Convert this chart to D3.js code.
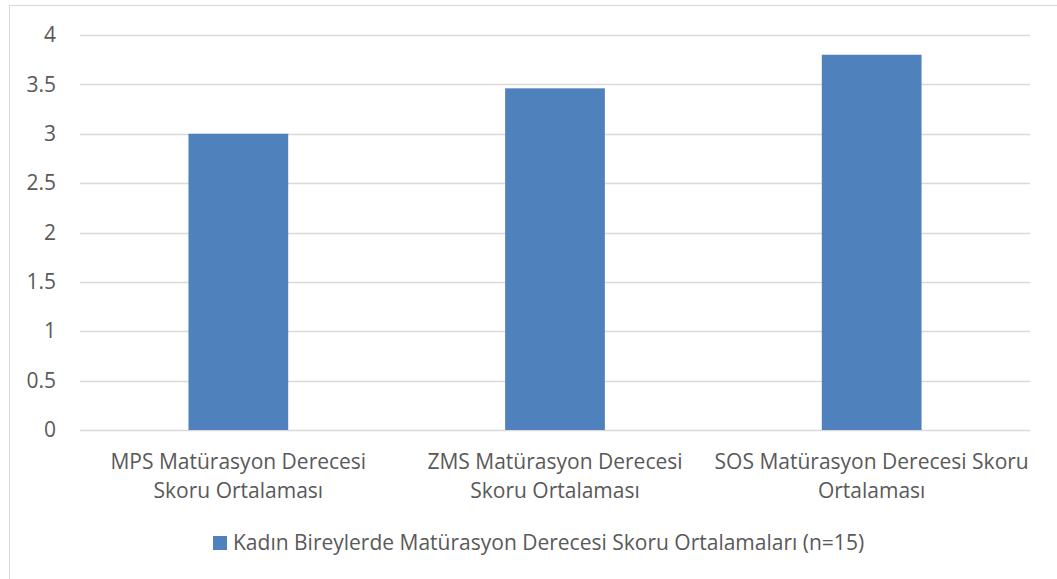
<!DOCTYPE html>
<html>
<head>
<meta charset="utf-8">
<script src="https://cdn.jsdelivr.net/npm/d3@7"></script>
<style>
  body { margin: 0; background: #fff; }
  text { font-family: "Open Sans", "Noto Sans", sans-serif; fill: #595959; }
</style>
</head>
<body>
<div id="chart"></div>
<script>
// Chart data
const categories = [
    ["MPS Matürasyon Derecesi", "Skoru Ortalaması"],
    ["ZMS Matürasyon Derecesi", "Skoru Ortalaması"],
    ["SOS Matürasyon Derecesi Skoru", "Ortalaması"]
];
const values = [3.0, 3.46, 3.8];
const yTicks = [0, 0.5, 1, 1.5, 2, 2.5, 3, 3.5, 4];
const seriesName = "Kadın Bireylerde Matürasyon Derecesi Skoru Ortalamaları (n=15)";

const W = 1057, H = 579;
const margin = { top: 35, right: 27, bottom: 149, left: 80 };
const width = W - margin.left - margin.right;
const height = H - margin.top - margin.bottom;

const root = d3.select("#chart").append("svg")
    .attr("width", W)
    .attr("height", H);

// outer chart frame
root.append("rect")
    .attr("x", 9.5).attr("y", 5.5)
    .attr("width", W + 20).attr("height", H + 20)
    .attr("fill", "none")
    .attr("stroke", "#d9d9d9");

const svg = root.append("g")
    .attr("transform", `translate(${margin.left},${margin.top})`);

const x = d3.scaleBand()
    .domain(d3.range(categories.length))
    .range([0, width])
    .paddingInner(0.685)
    .paddingOuter(0.3425);

const y = d3.scaleLinear()
    .domain([0, 4])
    .range([height, 0]);

// gridlines
svg.append("g")
    .selectAll("line")
    .data(yTicks)
    .enter()
    .append("line")
    .attr("x1", 0)
    .attr("x2", width)
    .attr("y1", d => Math.round(y(d)) + 0.5)
    .attr("y2", d => Math.round(y(d)) + 0.5)
    .attr("stroke", "#d9d9d9")
    .attr("stroke-width", 1.3);

// y axis labels
const yAxis = svg.append("g")
    .call(d3.axisLeft(y).tickValues(yTicks).tickSize(0).tickPadding(24).tickFormat(d3.format("")));
yAxis.select(".domain").remove();
yAxis.selectAll("text")
    .style("font-size", "21px")
    .attr("fill", "#595959");

// bars
svg.selectAll("rect.bar")
    .data(values)
    .enter()
    .append("rect")
    .attr("class", "bar")
    .attr("x", (d, i) => x(i))
    .attr("y", d => y(d))
    .attr("width", x.bandwidth())
    .attr("height", d => height - y(d))
    .attr("fill", "#4f81bd");

// category labels (two lines)
const cat = svg.append("g")
    .selectAll("text")
    .data(categories)
    .enter()
    .append("text")
    .attr("text-anchor", "middle")
    .style("font-size", "21px");
cat.each(function(lines, i) {
    const t = d3.select(this);
    lines.forEach((ln, j) => {
        t.append("tspan")
            .attr("x", x(i) + x.bandwidth() / 2)
            .attr("y", height + 39 + j * 29)
            .text(ln);
    });
});

// legend
const legend = root.append("g").attr("transform", "translate(213,536)");
legend.append("rect")
    .attr("width", 14).attr("height", 14)
    .attr("fill", "#4f81bd");
legend.append("text")
    .attr("x", 20).attr("y", 14)
    .style("font-size", "21px")
    .text(seriesName);
</script>
</body>
</html>
